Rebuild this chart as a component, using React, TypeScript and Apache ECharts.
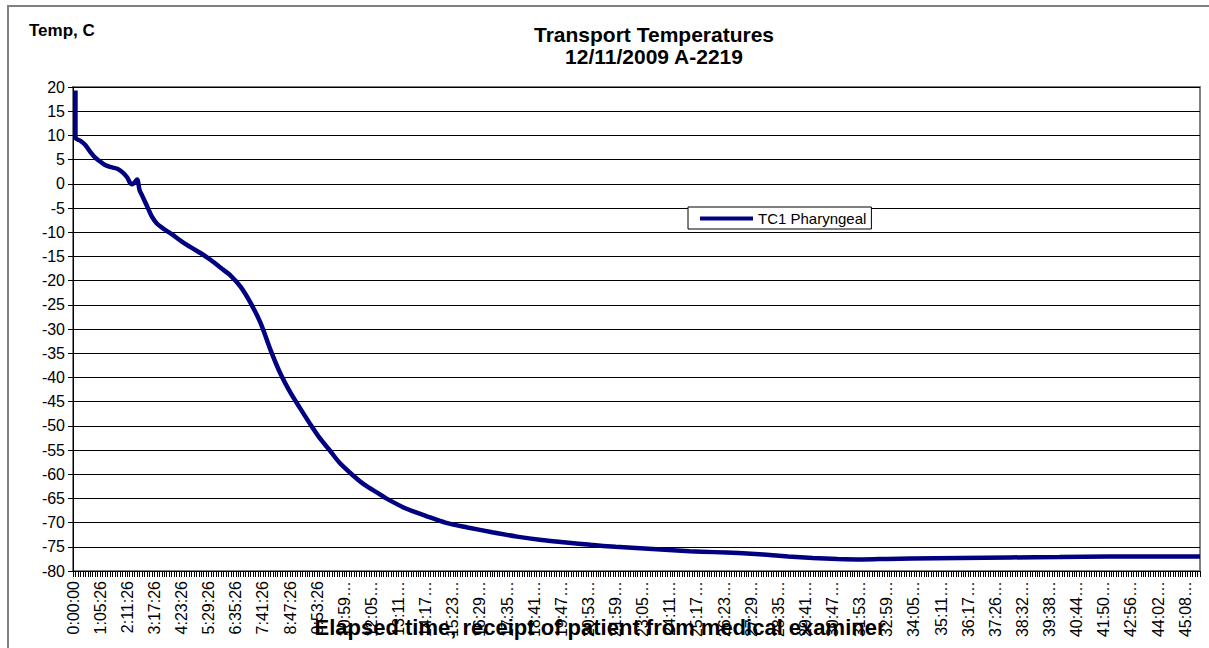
import React, { useEffect, useRef } from "react";
import * as echarts from "echarts";

const FONT = "'Liberation Sans', Arial, sans-serif";

// Tick labels shown every 11 categories (one category ≈ 6 minutes)
const tickLabels = [
  "0:00:00", "1:05:26", "2:11:26", "3:17:26", "4:23:26", "5:29:26", "6:35:26",
  "7:41:26", "8:47:26", "9:53:26", "10:59:26", "12:05:26", "13:11:26", "14:17:26",
  "15:23:26", "16:29:26", "17:35:26", "18:41:26", "19:47:26", "20:53:26", "21:59:26",
  "23:05:26", "24:11:26", "25:17:26", "26:23:26", "27:29:26", "28:35:26", "29:41:26",
  "30:47:26", "31:53:26", "32:59:26", "34:05:26", "35:11:26", "36:17:26", "37:26:00",
  "38:32:00", "39:38:00", "40:44:00", "41:50:00", "42:56:00", "44:02:00", "45:08:00",
];
const STEP = 11;
const EXTRA = 6;

const yMin = -80;
const yMax = 20;
const yStep = 5;

// [category index, temperature °C]
const tc1Pharyngeal: [number, number][] = [
  [1, 19.3], [1, 9.5], [3, 8.9], [5, 8.0], [7, 6.6], [9, 5.4], [11, 4.6], [13, 3.9],
  [15, 3.5], [18, 3.1], [20, 2.4], [22, 1.3], [23, 0.3], [24, -0.1], [25, 0.3],
  [26, 0.9], [27, -1.3], [28, -2.4], [30, -4.6], [32, -6.8], [34, -8.2], [37, -9.4],
  [40, -10.4], [44, -11.9], [48, -13.2], [52, -14.4], [56, -15.8], [60, -17.4],
  [64, -19.0], [68, -21.3], [72, -24.6], [76, -28.7], [80, -34.2], [84, -39.1],
  [88, -43.0], [92, -46.3], [96, -49.5], [100, -52.5], [104, -55.0], [108, -57.6],
  [113, -60.0], [118, -62.1], [124, -64.0], [127, -65.0], [135, -67.1], [143, -68.6],
  [151, -70.0], [160, -71.0], [170, -72.0], [180, -72.9], [190, -73.6], [200, -74.1],
  [210, -74.6], [220, -75.0], [230, -75.3], [240, -75.6], [250, -75.9], [260, -76.1],
  [270, -76.3], [280, -76.6], [290, -77.0], [300, -77.3], [310, -77.5], [320, -77.6],
  [330, -77.5], [340, -77.4], [360, -77.3], [380, -77.2], [400, -77.1], [420, -77.0],
  [440, -77.0], [457, -77.0],
];

function toSec(s: string) {
  const [h, m, sec] = s.split(":").map(Number);
  return h * 3600 + m * 60 + sec;
}
function fmt(t: number) {
  const h = Math.floor(t / 3600);
  const m = Math.floor((t % 3600) / 60);
  const s = t % 60;
  return `${h}:${String(m).padStart(2, "0")}:${String(s).padStart(2, "0")}`;
}

const categories: string[] = [];
tickLabels.forEach((lab, j) => {
  categories.push(lab);
  const n = j === tickLabels.length - 1 ? EXTRA : STEP - 1;
  for (let k = 1; k <= n; k++) categories.push(fmt(toSec(lab) + k * 360 + 1));
});

export default function App() {
  const ref = useRef<HTMLDivElement>(null);
  useEffect(() => {
    if (!ref.current) return;
    const chart = echarts.init(ref.current, undefined, { renderer: "svg" });
    chart.setOption({
      animation: false,
      backgroundColor: "#ffffff",
      grid: {
        left: 73,
        top: 87,
        width: 1127,
        height: 484,
        show: true,
        borderColor: "#808080",
        borderWidth: 2,
        backgroundColor: "#ffffff",
      },
      legend: {
        left: 688,
        top: 207,
        orient: "horizontal",
        icon: "rect",
        itemWidth: 53,
        itemHeight: 4,
        itemGap: 5,
        padding: [4, 5, 3, 12],
        borderColor: "#000000",
        borderWidth: 1,
        backgroundColor: "#ffffff",
        textStyle: { fontFamily: FONT, fontSize: 15, color: "#000000", padding: [0, 0, 0, 0] },
        data: [{ name: "TC1 Pharyngeal", itemStyle: { color: "#000080" } }],
      },
      xAxis: {
        type: "category",
        data: categories,
        boundaryGap: false,
        axisLine: { show: true, onZero: false, lineStyle: { color: "#000000", width: 1 } },
        axisTick: { show: true, interval: 0, length: 6, lineStyle: { color: "#000000", width: 1 } },
        axisLabel: {
          interval: STEP - 1,
          rotate: 90,
          margin: 10,
          fontFamily: FONT,
          fontSize: 16,
          color: "#000000",
          width: 58,
          overflow: "truncate",
          ellipsis: "…",
        },
        splitLine: { show: false },
      },
      yAxis: {
        type: "value",
        min: yMin,
        max: yMax,
        interval: yStep,
        axisLine: { show: true, lineStyle: { color: "#000000", width: 1 } },
        axisTick: { show: true, length: 5, lineStyle: { color: "#000000" } },
        axisLabel: { fontFamily: FONT, fontSize: 16, color: "#000000", margin: 8 },
        splitLine: { show: true, lineStyle: { color: "#000000", width: 1 } },
      },
      series: [
        {
          name: "TC1 Pharyngeal",
          type: "line",
          data: tc1Pharyngeal,
          showSymbol: false,
          symbol: "none",
          smooth: 0.3,
          lineStyle: { color: "#000080", width: 4.5 },
          itemStyle: { color: "#000080" },
          z: 5,
        },
      ],
      graphic: [
        {
          type: "rect",
          shape: { x: 8, y: 6, width: 1300, height: 700 },
          style: { fill: "none", stroke: "#808080", lineWidth: 2 },
          silent: true,
          z: 100,
        },
        {
          type: "text",
          x: 654,
          y: 34,
          style: {
            text: "Transport Temperatures",
            fontFamily: FONT,
            fontSize: 21,
            fontWeight: "bold",
            fill: "#000000",
            align: "center",
            verticalAlign: "middle",
          },
        },
        {
          type: "text",
          x: 654,
          y: 56,
          style: {
            text: "12/11/2009 A-2219",
            fontFamily: FONT,
            fontSize: 21,
            fontWeight: "bold",
            fill: "#000000",
            align: "center",
            verticalAlign: "middle",
          },
        },
        {
          type: "text",
          x: 29,
          y: 30,
          style: {
            text: "Temp, C",
            fontFamily: FONT,
            fontSize: 17,
            fontWeight: "bold",
            fill: "#000000",
            align: "left",
            verticalAlign: "middle",
          },
        },
        {
          type: "text",
          x: 600,
          y: 627,
          z: 50,
          style: {
            text: "Elapsed time, receipt of patient from medical examiner",
            fontFamily: FONT,
            fontSize: 22,
            fontWeight: "bold",
            fill: "#000000",
            align: "center",
            verticalAlign: "middle",
          },
        },
      ],
    });
    return () => chart.dispose();
  }, []);
  return (
    <div
      ref={ref}
      style={{ position: "fixed", left: 0, top: 0, width: 1209, height: 648 }}
    />
  );
}
